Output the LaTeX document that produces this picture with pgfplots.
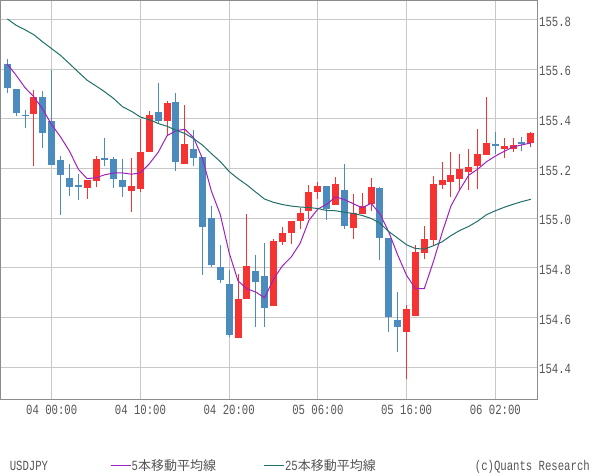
\documentclass[border=0pt]{standalone}
\usepackage{fontspec}
\usepackage{pgfplots}
\pgfplotsset{compat=1.18}
\usepackage{pgfplotstable}
\setmainfont{Liberation Mono}[FakeStretch=0.76]
\newfontfamily\cjk{Noto Sans CJK JP}
\newcommand\lab{\fontsize{14pt}{16pt}\selectfont}
\newcommand\cjklab{\cjk\fontsize{13pt}{15pt}\selectfont}

\definecolor{candleblue}{RGB}{76,139,189}
\definecolor{candlered}{RGB}{245,51,51}
\definecolor{maf}{RGB}{160,32,192}
\definecolor{mas}{RGB}{31,112,104}
\definecolor{gridc}{RGB}{200,200,200}
\definecolor{framec}{RGB}{140,140,140}
\definecolor{textc}{RGB}{85,85,85}

% hour index t: 0 = 04 00:00 (hourly candles)
\pgfplotstableread{
t o h l c
-2 155.420 155.515 155.211 155.489
4 155.122 155.153 155.078 155.153
5 155.150 155.250 155.126 155.237
9 155.110 155.241 155.026 155.129
10 155.118 155.399 155.106 155.266
11 155.267 155.430 155.267 155.414
13 155.391 155.470 155.333 155.462
15 155.219 155.454 155.219 155.298
21 154.520 154.776 154.520 154.675
22 154.673 155.017 154.673 154.808
25 154.648 154.916 154.648 154.908
26 154.904 154.964 154.892 154.940
27 154.940 154.988 154.896 154.988
28 154.988 155.041 154.956 155.021
29 155.029 155.133 154.997 155.105
30 155.105 155.145 155.077 155.129
32 155.053 155.165 155.053 155.137
34 154.960 155.097 154.916 155.021
35 155.017 155.101 155.017 155.049
36 155.057 155.161 155.029 155.125
40 154.544 154.651 154.355 154.635
41 154.608 154.892 154.608 154.864
42 154.861 154.968 154.837 154.916
43 154.914 155.169 154.889 155.137
44 155.133 155.225 155.117 155.153
45 155.145 155.266 155.085 155.173
46 155.157 155.258 155.113 155.197
47 155.185 155.278 155.113 155.205
48 155.209 155.358 155.117 155.258
49 155.254 155.486 155.254 155.302
51 155.278 155.322 155.241 155.290
52 155.278 155.322 155.266 155.294
54 155.302 155.346 155.286 155.342
}\upcandles

\pgfplotstableread{
t o h l c
-5 155.619 155.639 155.504 155.524
-4 155.519 155.519 155.412 155.424
-3 155.417 155.434 155.363 155.411
-1 155.486 155.511 155.283 155.343
0 155.390 155.595 155.213 155.215
1 155.233 155.250 155.014 155.175
2 155.161 155.217 155.090 155.126
3 155.132 155.177 155.074 155.126
6 155.241 155.322 155.211 155.235
7 155.237 155.246 155.122 155.158
8 155.153 155.237 155.086 155.126
12 155.426 155.543 155.381 155.391
14 155.466 155.503 155.191 155.227
16 155.278 155.354 155.211 155.243
17 155.246 155.246 154.773 154.966
18 154.999 155.049 154.802 154.813
19 154.802 154.892 154.741 154.753
20 154.735 154.793 154.524 154.532
23 154.788 154.852 154.564 154.745
24 154.768 154.900 154.564 154.640
31 155.129 155.129 154.993 155.037
33 155.113 155.217 154.956 154.968
37 155.121 155.125 154.832 154.920
38 154.920 154.920 154.544 154.604
39 154.592 154.705 154.460 154.564
50 155.298 155.346 155.258 155.290
53 155.306 155.326 155.270 155.298
}\downcandles

\pgfplotstableread{
t v
-5 155.619
-4 155.575
-3 155.525
-2 155.488
-1 155.438
0 155.376
1 155.327
2 155.270
3 155.197
4 155.159
5 155.163
6 155.175
7 155.182
8 155.182
9 155.177
10 155.183
11 155.219
12 155.265
13 155.332
14 155.352
15 155.358
16 155.324
17 155.239
18 155.109
19 155.015
20 154.861
21 154.748
22 154.716
23 154.703
24 154.680
25 154.755
26 154.808
27 154.844
28 154.899
29 154.992
30 155.037
31 155.056
32 155.086
33 155.075
34 155.058
35 155.042
36 155.060
37 155.017
38 154.944
39 154.852
40 154.770
41 154.717
42 154.717
43 154.823
44 154.941
45 155.049
46 155.115
47 155.173
48 155.197
49 155.227
50 155.250
51 155.269
52 155.287
53 155.295
54 155.303
}\mafive

\pgfplotstableread{
t v
-5 155.802
-4 155.776
-3 155.758
-2 155.738
-1 155.709
0 155.682
1 155.655
2 155.622
3 155.588
4 155.555
5 155.532
6 155.508
7 155.481
8 155.448
9 155.430
10 155.407
11 155.397
12 155.381
13 155.370
14 155.354
15 155.341
16 155.320
17 155.294
18 155.260
19 155.228
20 155.188
21 155.159
22 155.134
23 155.105
24 155.077
25 155.064
26 155.055
27 155.049
28 155.045
29 155.043
30 155.039
31 155.031
32 155.030
33 155.024
34 155.019
35 155.011
36 154.999
37 154.980
38 154.946
39 154.920
40 154.893
41 154.878
42 154.876
43 154.889
44 154.905
45 154.930
46 154.951
47 154.967
48 154.988
49 155.014
50 155.030
51 155.044
52 155.056
53 155.067
54 155.076
}\matwentyfive

\begin{document}
\begin{tikzpicture}[x=1pt,y=1pt]
\path[use as bounding box] (0,0) rectangle (600,475);
\begin{axis}[
  at={(0.5pt,76pt)}, anchor=south west,
  scale only axis, width=537pt, height=398.5pt,
  xmin=-5.771, xmax=54.756, ymin=154.2726, ymax=155.876,
  axis line style={draw=framec, line width=1pt},
  grid=major, major grid style={draw=gridc, line width=1pt},
  major tick length=0pt,
  xtick={0,10,20,30,40,50},
  xticklabels={04 00:00,04 10:00,04 20:00,05 06:00,05 16:00,06 02:00},
  ytick={154.4,154.6,154.8,155.0,155.2,155.4,155.6,155.8},
  yticklabels={154.4,154.6,154.8,155.0,155.2,155.4,155.6,155.8},
  yticklabel pos=right,
  tick label style={font=\lab, text=textc, inner sep=0pt},
  xticklabel style={anchor=north, yshift=-5.5pt},
  yticklabel style={anchor=west, xshift=1.5pt, yshift=-2pt},
  legend columns=2,
  legend style={at={(rel axis cs:0.2039,-0.1681)}, anchor=west, draw=none, fill=none, inner sep=0pt,
    /tikz/every even column/.append style={column sep=47pt},
    nodes={inner sep=0.5pt, text=textc}},
  legend image code/.code={\draw[#1, line width=1pt] (0pt,0pt) -- (20pt,0pt);},
  candle/.style 2 args={forget plot, draw=none, mark=none,
    error bars/.cd, y dir=plus, y explicit, error mark=none,
    error bar style={draw=#1, line width=#2}, /pgfplots/.cd},
]
% wicks
\addplot[candle={candlered}{1pt}]
  table[x=t, y=l, y error plus expr=\thisrow{h}-\thisrow{l}] {\upcandles};
\addplot[candle={candleblue}{1pt}]
  table[x=t, y=l, y error plus expr=\thisrow{h}-\thisrow{l}] {\downcandles};
% bodies
\addplot[candle={candlered}{7pt}]
  table[x=t, y=o, y error plus expr=\thisrow{c}-\thisrow{o}] {\upcandles};
\addplot[candle={candleblue}{7pt}]
  table[x=t, y=c, y error plus expr=\thisrow{o}-\thisrow{c}] {\downcandles};
% moving averages
\addplot[maf, line width=1pt, mark=none] table[x=t, y=v] {\mafive};
\addlegendentry{{\lab 5}{\cjklab 本移動平均線}}
\addplot[mas, line width=1pt, mark=none] table[x=t, y=v] {\matwentyfive};
\addlegendentry{{\lab 25}{\cjklab 本移動平均線}}
\end{axis}
\node[anchor=base west, inner sep=0pt, text=textc, font=\lab] at (9.6,4.4) {USDJPY};
\node[anchor=base east, inner sep=0pt, text=textc, font=\lab] at (590,4.4) {(c)Quants Research};
\end{tikzpicture}
\end{document}
